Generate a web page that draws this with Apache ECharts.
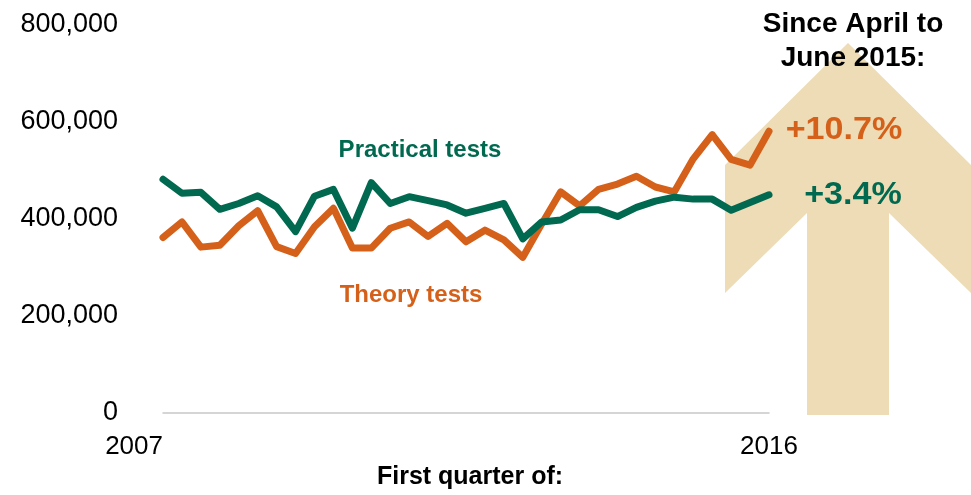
<!DOCTYPE html>
<html>
<head>
<meta charset="utf-8">
<script src="https://cdn.jsdelivr.net/npm/echarts@6/dist/echarts.min.js"></script>
<style>html,body{margin:0;padding:0;background:#fff}#c{width:971px;height:495px}</style>
</head>
<body>
<div id="c"></div>
<script>
// 33 quarterly points, labelled only at first and last
const categories = ['2007','','','','','','','','','','','','','','','','','','','','','','','','','','','','','','','','2016'];
const practical = [482000,453000,455000,420000,432000,448000,425000,374000,447000,461000,381000,475000,432000,446000,438000,429000,412000,422000,432000,359000,394000,398000,419000,419000,405000,424000,437000,445000,441000,441000,418000,434000,450000];
const theory = [362000,394000,342000,346000,386000,417000,343000,329000,384000,422000,340000,340000,381000,394000,364000,391000,353000,377000,357000,321000,390000,456000,427000,461000,472000,488000,466000,456000,524000,574000,523000,511000,581000];
const yTicks = [0, 200000, 400000, 600000, 800000];

const GREEN = '#00694F', ORANGE = '#D4601A', BEIGE = '#EDDCB5';
const FONT = 'Liberation Sans, Arial, sans-serif';

const chart = echarts.init(document.getElementById('c'));
chart.setOption({
  animation: false,
  backgroundColor: '#fff',
  grid: { left: 163, right: 202, top: 25, bottom: 82, containLabel: false },
  xAxis: {
    type: 'category',
    boundaryGap: false,
    data: categories.map((c, i) => i === 0 ? { value: c, textStyle: { align: 'right' } } : c),
    axisLine: { show: true, lineStyle: { color: '#C8C8C8', width: 1.5 } },
    axisTick: { show: false },
    axisLabel: { interval: 0, color: '#000', fontFamily: FONT, fontSize: 26, margin: 21 ,
      formatter: v => v }
  },
  yAxis: {
    type: 'value',
    min: yTicks[0], max: yTicks[yTicks.length - 1], interval: 200000,
    axisLine: { show: false }, axisTick: { show: false }, splitLine: { show: false },
    axisLabel: { color: '#000', fontFamily: FONT, fontSize: 27, margin: 45, padding: [6, 0, 0, 0],
      formatter: v => v.toLocaleString('en-US') }
  },
  graphic: [
    { type: 'polygon', z: 0, silent: true,
      shape: { points: [[848,43],[971,165],[971,293],[889,213],[889,415],[807,415],[807,213],[725,293],[725,165]] },
      style: { fill: BEIGE } },
    { type: 'text', z: 10, x: 853, y: 24, style: { text: 'Since April to', fill: '#000', font: 'bold 28px ' + FONT, align: 'center', verticalAlign: 'middle' } },
    { type: 'text', z: 10, x: 853, y: 58, style: { text: 'June 2015:', fill: '#000', font: 'bold 28px ' + FONT, align: 'center', verticalAlign: 'middle' } },
    { type: 'text', z: 10, x: 844, y: 130, scaleX: 1.1, style: { text: '+10.7%', fill: ORANGE, font: 'bold 31px ' + FONT, align: 'center', verticalAlign: 'middle' } },
    { type: 'text', z: 10, x: 853, y: 195, scaleX: 1.1, style: { text: '+3.4%', fill: GREEN, font: 'bold 31px ' + FONT, align: 'center', verticalAlign: 'middle' } },
    { type: 'text', z: 10, x: 420, y: 150, style: { text: 'Practical tests', fill: GREEN, font: 'bold 24px ' + FONT, align: 'center', verticalAlign: 'middle' } },
    { type: 'text', z: 10, x: 411, y: 295, style: { text: 'Theory tests', fill: ORANGE, font: 'bold 24px ' + FONT, align: 'center', verticalAlign: 'middle' } },
    { type: 'text', z: 10, x: 470, y: 477, style: { text: 'First quarter of:', fill: '#000', font: 'bold 25px ' + FONT, align: 'center', verticalAlign: 'middle' } }
  ],
  series: [
    { name: 'Practical tests', type: 'line', data: practical, z: 5, showSymbol: false, symbol: 'none',
      lineStyle: { color: GREEN, width: 7, cap: 'round', join: 'round' } },
    { name: 'Theory tests', type: 'line', data: theory, z: 4, showSymbol: false, symbol: 'none',
      lineStyle: { color: ORANGE, width: 7, cap: 'round', join: 'round' } }
  ]
});
</script>
</body>
</html>
